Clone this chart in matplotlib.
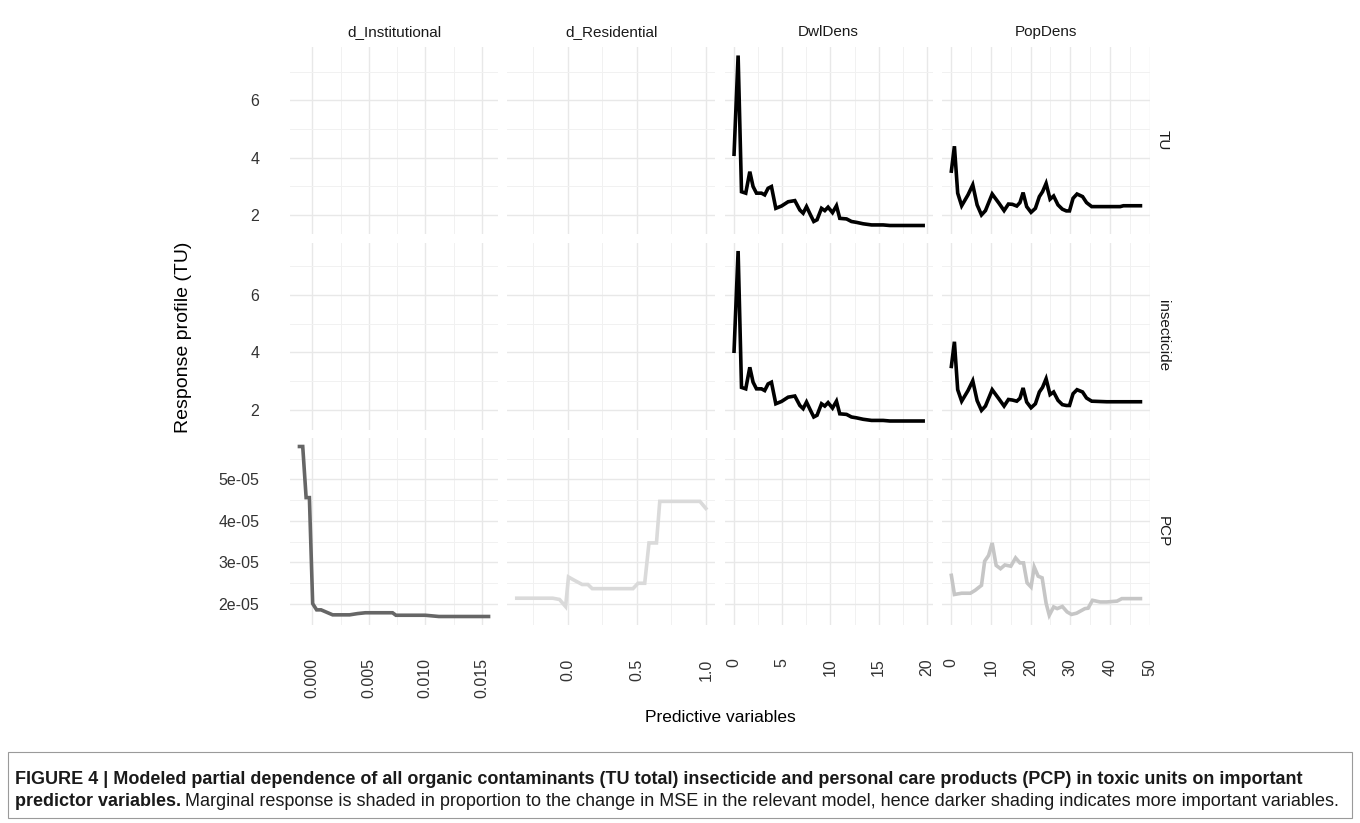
import numpy as np
import matplotlib
matplotlib.use("Agg")
import matplotlib.pyplot as plt
from matplotlib.ticker import MultipleLocator, FixedLocator
from matplotlib.patches import Rectangle

plt.rcParams["font.family"] = ["Liberation Sans", "DejaVu Sans"]

kolumny = ["d_Institutional", "d_Residential", "DwlDens", "PopDens"]
wiersze = ["TU", "insecticide", "PCP"]

# TU
tu_dwl_x = [0.03, 0.45, 0.8, 1.24, 1.66, 2.0, 2.35, 2.87, 3.2, 3.55, 3.9, 4.35, 4.94, 5.63, 6.32, 6.84,
            7.18, 7.53, 7.94, 8.28, 8.62, 9.08, 9.42, 9.76, 10.22, 10.63, 10.97, 11.67, 12.18, 12.7,
            13.39, 14.26, 15.46, 16.15, 17.53, 19.6]
tu_dwl_y = [4.12, 7.57, 2.81, 2.76, 3.51, 2.99, 2.76, 2.76, 2.70, 2.93, 2.99, 2.23, 2.31, 2.46, 2.50, 2.17,
            2.06, 2.29, 2.00, 1.77, 1.83, 2.23, 2.15, 2.27, 2.08, 2.32, 1.88, 1.86, 1.77, 1.74,
            1.69, 1.65, 1.65, 1.63, 1.63, 1.63]
tu_pop_x = [0.0, 0.77, 1.6, 2.6, 4.2, 5.4, 6.5, 7.6, 8.6, 10.3, 12.0, 13.3, 14.4, 15.4, 16.5, 17.3, 18.1,
            19.0, 20.1, 21.2, 22.2, 23.0, 23.9, 24.9, 25.8, 26.9, 28.0, 29.0, 29.8, 30.7, 31.7, 33.1,
            34.1, 35.4, 39.2, 42.6, 43.4, 47.7]
tu_pop_y = [3.53, 4.40, 2.76, 2.32, 2.70, 3.05, 2.35, 2.00, 2.15, 2.73, 2.41, 2.15, 2.38, 2.37, 2.31, 2.43,
            2.78, 2.29, 2.09, 2.23, 2.64, 2.81, 3.10, 2.55, 2.66, 2.35, 2.20, 2.14, 2.14, 2.58, 2.73,
            2.64, 2.43, 2.29, 2.29, 2.29, 2.32, 2.32]

# insecticide
ins_dwl_x = [0.03, 0.45, 0.8, 1.24, 1.66, 2.0, 2.35, 2.87, 3.2, 3.55, 3.9, 4.35, 4.94, 5.63, 6.32, 6.84,
             7.18, 7.53, 7.94, 8.28, 8.62, 9.08, 9.42, 9.76, 10.22, 10.63, 10.97, 11.67, 12.18, 12.7,
             13.39, 14.26, 15.46, 16.15, 17.53, 19.6]
ins_dwl_y = [4.04, 7.53, 2.78, 2.73, 3.48, 2.96, 2.73, 2.73, 2.67, 2.90, 2.96, 2.21, 2.29, 2.44, 2.48, 2.15,
             2.04, 2.27, 1.98, 1.75, 1.81, 2.21, 2.13, 2.25, 2.06, 2.30, 1.86, 1.84, 1.75, 1.72,
             1.67, 1.63, 1.63, 1.61, 1.61, 1.61]
ins_pop_x = [0.0, 0.77, 1.6, 2.6, 4.2, 5.4, 6.5, 7.6, 8.6, 10.3, 12.0, 13.3, 14.4, 15.4, 16.5, 17.3, 18.1,
             19.0, 20.1, 21.2, 22.2, 23.0, 23.9, 24.9, 25.8, 26.9, 28.0, 29.0, 29.8, 30.7, 31.7, 33.1,
             34.1, 35.4, 39.2, 42.6, 43.4, 47.7]
ins_pop_y = [3.51, 4.37, 2.70, 2.30, 2.67, 3.01, 2.32, 1.98, 2.13, 2.70, 2.38, 2.13, 2.36, 2.34, 2.30, 2.40,
             2.76, 2.27, 2.07, 2.21, 2.62, 2.78, 3.08, 2.53, 2.62, 2.33, 2.18, 2.15, 2.15, 2.56, 2.70,
             2.62, 2.41, 2.30, 2.28, 2.28, 2.28, 2.28]

# PCP
pcp_inst_x = [-0.00114, -0.00085, -0.00055, -0.00026, 0.00003, 0.00038, 0.00077, 0.0018, 0.0033, 0.0040,
              0.0047, 0.0071, 0.0074, 0.0100, 0.0112, 0.0156]
pcp_inst_y = [5.79e-05, 5.79e-05, 4.56e-05, 4.56e-05, 2.01e-05, 1.86e-05, 1.86e-05, 1.74e-05, 1.74e-05,
              1.77e-05, 1.79e-05, 1.79e-05, 1.73e-05, 1.73e-05, 1.70e-05, 1.70e-05]
pcp_res_x = [-0.367, -0.106, -0.058, -0.014, 0.007, 0.05, 0.106, 0.147, 0.179, 0.473, 0.51, 0.558, 0.589,
             0.643, 0.667, 0.957, 1.0]
pcp_res_y = [2.14e-05, 2.14e-05, 2.11e-05, 1.94e-05, 2.65e-05, 2.57e-05, 2.47e-05, 2.47e-05, 2.37e-05,
             2.37e-05, 2.50e-05, 2.50e-05, 3.47e-05, 3.47e-05, 4.47e-05, 4.47e-05, 4.30e-05]
pcp_pop_x = [0.0, 0.77, 2.6, 4.8, 6.0, 7.6, 8.4, 9.4, 10.3, 11.3, 12.4, 13.5, 15.0, 16.2, 17.3, 18.2, 19.1,
             20.1, 20.9, 21.9, 22.9, 23.9, 24.7, 25.8, 26.7, 28.0, 29.2, 30.3, 31.6, 33.7, 34.5, 35.6,
             37.5, 39.2, 41.8, 43.0, 47.7]
pcp_pop_y = [2.69e-05, 2.23e-05, 2.26e-05, 2.26e-05, 2.33e-05, 2.45e-05, 3.03e-05, 3.17e-05, 3.47e-05,
             2.93e-05, 2.85e-05, 2.94e-05, 2.91e-05, 3.11e-05, 2.99e-05, 2.99e-05, 2.51e-05, 2.41e-05,
             2.89e-05, 2.67e-05, 2.63e-05, 2.02e-05, 1.73e-05, 1.93e-05, 1.89e-05, 1.94e-05, 1.81e-05,
             1.75e-05, 1.78e-05, 1.89e-05, 1.90e-05, 2.09e-05, 2.05e-05, 2.05e-05, 2.07e-05, 2.13e-05,
             2.13e-05]

# (wiersz, kolumna, x, y, kolor)
linie = [
    (0, 2, tu_dwl_x, tu_dwl_y, "#000000"),
    (0, 3, tu_pop_x, tu_pop_y, "#000000"),
    (1, 2, ins_dwl_x, ins_dwl_y, "#000000"),
    (1, 3, ins_pop_x, ins_pop_y, "#000000"),
    (2, 0, pcp_inst_x, pcp_inst_y, "#666666"),
    (2, 1, pcp_res_x, pcp_res_y, "#dadada"),
    (2, 3, pcp_pop_x, pcp_pop_y, "#c6c6c6"),
]

x_major = [[0.0, 0.005, 0.010, 0.015], [0.0, 0.5, 1.0], [0, 5, 10, 15, 20], [0, 10, 20, 30, 40, 50]]
x_minor = [0.0025, 0.25, 2.5, 5]
x_fmt = ["{:.3f}", "{:.1f}", "{:.0f}", "{:.0f}"]
y_major = [[2, 4, 6], [2, 4, 6], [2e-05, 3e-05, 4e-05, 5e-05]]
y_minor = [1, 1, 0.5e-05]
y_labels = [["2", "4", "6"], ["2", "4", "6"], ["2e-05", "3e-05", "4e-05", "5e-05"]]


def rozszerz(wart):
    lo, hi = min(wart), max(wart)
    d = (hi - lo) * 0.05
    return lo - d, hi + d


xlims = []
for c in range(4):
    xs = [v for (r, cc, x, y, k) in linie if cc == c for v in x]
    xlims.append(rozszerz(xs))
ylims = []
for r in range(3):
    ys = [v for (rr, c, x, y, k) in linie if rr == r for v in y]
    ylims.append(rozszerz(ys))

W, H = 1360, 823
fig = plt.figure(figsize=(W / 100, H / 100), dpi=100)

left0, pw, gx = 290, 208, 9.3
top0, ph, gy = 47, 187, 8.5

osie = {}
for r in range(3):
    for c in range(4):
        x0 = left0 + c * (pw + gx)
        y0 = top0 + r * (ph + gy)
        ax = fig.add_axes([x0 / W, 1 - (y0 + ph) / H, pw / W, ph / H])
        ax.set_xlim(xlims[c])
        ax.set_ylim(ylims[r])
        ax.xaxis.set_major_locator(FixedLocator(x_major[c]))
        ax.xaxis.set_minor_locator(MultipleLocator(x_minor[c]))
        ax.yaxis.set_major_locator(FixedLocator(y_major[r]))
        ax.yaxis.set_minor_locator(MultipleLocator(y_minor[r]))
        ax.grid(True, which="major", color="#e8e8e8", linewidth=1.0)
        ax.grid(True, which="minor", color="#f1f1f1", linewidth=0.7)
        ax.set_axisbelow(True)
        for s in ax.spines.values():
            s.set_visible(False)
        ax.tick_params(which="both", length=0, labelsize=11.5, colors="#333333")
        ax.tick_params(axis="y", pad=22)
        ax.tick_params(axis="x", pad=24)
        if c == 0:
            ax.set_yticklabels(y_labels[r])
        else:
            ax.set_yticklabels([])
        if r == 2:
            ax.set_xticklabels([x_fmt[c].format(v) for v in x_major[c]], rotation=90, va="top", ha="center")
        else:
            ax.set_xticklabels([])
        if r == 0:
            ax.text(0.5, 1 + 15 / ph, kolumny[c], transform=ax.transAxes, ha="center", va="center",
                    fontsize=11, color="#1a1a1a")
        if c == 3:
            ax.text(1 + 13 / pw, 0.5, wiersze[r], transform=ax.transAxes, ha="center", va="center",
                    rotation=270, fontsize=11, color="#1a1a1a")
        osie[(r, c)] = ax

for (r, c, x, y, kolor) in linie:
    osie[(r, c)].plot(x, y, color=kolor, linewidth=2.6, solid_joinstyle="miter")

fig.text(183 / W, 1 - 337 / H, "Response profile (TU)", rotation=90, ha="center", va="center",
         fontsize=14, color="#000000")
fig.text(720 / W, 1 - 717 / H, "Predictive variables", ha="center", va="center",
         fontsize=12.5, color="#000000")

# podpis
fig.patches.append(Rectangle((8 / W, 1 - 818 / H), 1344 / W, 66 / H, transform=fig.transFigure,
                             fill=False, edgecolor="#9a9a9a", linewidth=0.8))
linia1 = ("FIGURE 4 | Modeled partial dependence of all organic contaminants (TU total) insecticide and "
          "personal care products (PCP) in toxic units on important")
fig.text(15 / W, 1 - 779 / H, linia1, ha="left", va="center", fontsize=13, fontweight="bold",
         color="#1a1a1a")
t2 = fig.text(15 / W, 1 - 801 / H, "predictor variables.", ha="left", va="center", fontsize=13,
              fontweight="bold", color="#1a1a1a")
renderer = fig.canvas.get_renderer()
bb = t2.get_window_extent(renderer=renderer)
fig.text((bb.x1 + 4) / W, 1 - 801 / H,
         "Marginal response is shaded in proportion to the change in MSE in the relevant model, hence "
         "darker shading indicates more important variables.",
         ha="left", va="center", fontsize=13, color="#1a1a1a")

fig.savefig("out.png", dpi=100)
